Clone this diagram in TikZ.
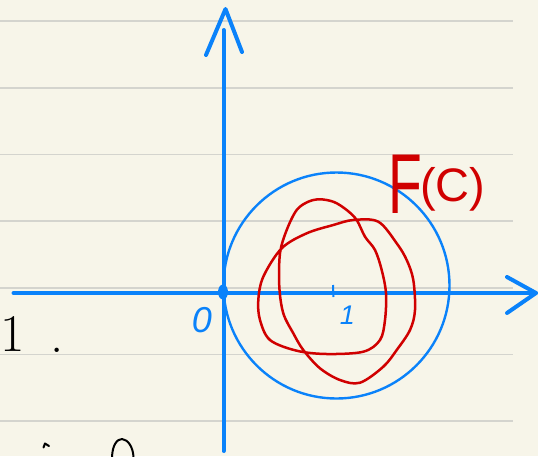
\documentclass[tikz,border=0pt]{standalone}
\usepackage{fontspec}
\newfontfamily\hand{Liberation Sans}
\definecolor{paper}{RGB}{247,245,233}
\definecolor{rulec}{RGB}{212,212,206}
\definecolor{penblue}{RGB}{10,130,250}
\definecolor{penred}{RGB}{208,0,0}
\tikzset{
  ruleline/.style={draw=rulec, line width=1.4pt},
  axisline/.style={draw=penblue, line width=4pt, line cap=round, line join=round},
  blueline/.style={draw=penblue, line width=2.4pt},
  redline/.style={draw=penred, line width=2.5pt, line join=round},
  blacklineb/.style={draw=black, line width=2pt, line cap=round, line join=round},
  lbl/.style={inner sep=0pt, outer sep=0pt}
}
\begin{document}
\begin{tikzpicture}[x=1pt,y=-1pt]
\fill[paper] (0,0) rectangle (538,456);
\useasboundingbox (0,0) rectangle (538,456);
% ruled lines
\foreach \yy in {21,88,154.5,221,288,354.5,421}
  \draw[ruleline] (0,\yy) -- (513,\yy);
% axes
\coordinate (ybot) at (223.5,451);
\coordinate (ytop) at (223.5,30);
\coordinate (yapex) at (225.5,9);
\coordinate (yl) at (206,55);
\coordinate (yr) at (242,52);
\coordinate (xleft) at (13.5,293);
\coordinate (xtip) at (536,293);
\coordinate (xu) at (507,277);
\coordinate (xd) at (507,313);
\draw[axisline] (ybot) -- (ytop);
\draw[axisline] (yl) -- (yapex) -- (yr);
\draw[axisline] (xleft) -- (xtip);
\draw[axisline] (xu) -- (xtip) -- (xd);
% origin blob
\fill[penblue] (223,292) ellipse[x radius=5pt, y radius=7.5pt];
% unit circle
\draw[blueline] (336.5,285.5) circle[radius=113pt];
% tick at 1
\coordinate (tk1) at (333,285);
\coordinate (tk2) at (333.5,297);
\draw[draw=penblue, line width=2pt] (tk1) -- (tk2);
% labels
\node[lbl, text=penblue, font=\hand\itshape\fontsize{36}{36}\selectfont] (zero) at (202,320.5) {0};
\node[lbl, text=penblue, font=\hand\itshape\fontsize{27}{27}\selectfont] (one) at (347.5,315) {1};
% red image curve
\draw[redline] plot[smooth cycle, tension=0.55] coordinates {
 (320,199.3) (334,202) (346.7,210) (356.7,220) (365,236.7) (375,250) (381.7,270)
 (386,293.3) (385,320) (380,340) (363.3,351.7) (326.7,354) (296.7,350.7)
 (270,340) (260,320) (258.3,300) (263.3,276.7) (281.7,248.3) (306.7,233.3)
 (333.3,225) (353.3,220) (378.3,221.7) (396.7,243.3) (406.7,260) (413.3,280)
 (415,310) (410,330) (396.7,350) (383.3,366.7) (360,382.7) (340,380)
 (320,368.3) (303.3,350) (293.3,333.3) (283.3,313.3) (279.3,286.7) (280,253.3)
 (286.7,230) (296.7,210) (308.3,201.7)};
% F(C)
\node[lbl, text=penred, anchor=base west] (Flbl) at (388.5,213)
  {\scalebox{0.65}[1]{\hand\fontsize{85}{85}\selectfont F}};
\node[lbl, text=penred, anchor=base west] (Clbl) at (420,201)
  {\hand\fontsize{47}{47}\selectfont (C)};
% black notes at left
\node[lbl, anchor=base west, font=\fontsize{53}{53}\selectfont] (blk1) at (0,351) {1};
\node[lbl, anchor=base west, font=\fontsize{53}{53}\selectfont] (blkdot) at (50,352) {.};
\coordinate (c1) at (43.5,447.5);
\coordinate (c2) at (45,443.5);
\coordinate (c3) at (49,446);
\draw[blacklineb] (c1) -- (c2) -- (c3);
\coordinate (d1) at (112,457);
\coordinate (d2) at (122,439);
\coordinate (d3) at (133.5,457);
\draw[blacklineb] (d1) .. controls (112.5,445) and (117,439) .. (d2)
  .. controls (128,439.5) and (133,447) .. (d3);
\end{tikzpicture}
\end{document}
